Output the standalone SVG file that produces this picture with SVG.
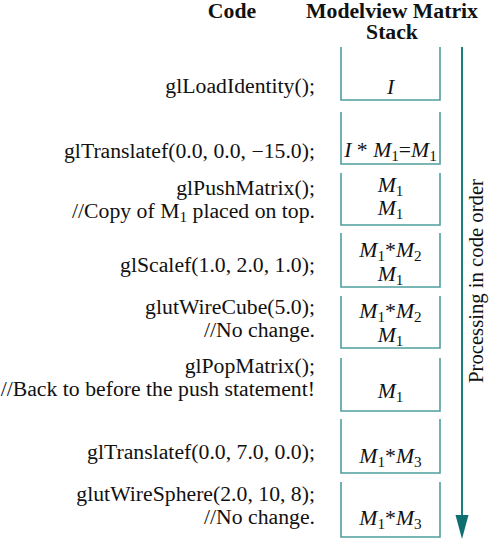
<svg xmlns="http://www.w3.org/2000/svg" width="491" height="539" viewBox="0 0 491 539">
<style>
text{font-family:"Liberation Serif","Times New Roman",Times,Tinos,"Noto Serif","DejaVu Serif",serif;font-size:20px;fill:#111}
.b{font-weight:bold}
.it{font-style:italic}
.sub{font-size:14px}
.box{fill:none;stroke:#4f9e9e;stroke-width:1.6}
.code text{text-anchor:end}
.stk text{text-anchor:middle}
</style>
<rect width="491" height="539" fill="#fff"/>
<g id="titles">
<g transform="translate(232,0) scale(1.087,1)"><text class="b" x="0" y="17.5" text-anchor="middle">Code</text></g>
<g transform="translate(392,0) scale(1.087,1)"><text class="b" x="0" y="17.5" text-anchor="middle">Modelview Matrix</text><text class="b" x="0" y="39" text-anchor="middle">Stack</text></g>
</g>
<g id="code" class="code" transform="translate(315,0) scale(1.087,1)">
<text x="0" y="93">glLoadIdentity();</text>
<text x="0" y="158">glTranslatef(0.0, 0.0, −15.0);</text>
<text x="0" y="195">glPushMatrix();</text>
<text x="0" y="218">//Copy of M<tspan class="sub" dy="4">1</tspan><tspan dy="-4"> placed on top.</tspan></text>
<text x="0" y="272">glScalef(1.0, 2.0, 1.0);</text>
<text x="0" y="314">glutWireCube(5.0);</text>
<text x="0" y="337">//No change.</text>
<text x="0" y="373">glPopMatrix();</text>
<text x="0" y="396">//Back to before the push statement!</text>
<text x="0" y="459">glTranslatef(0.0, 7.0, 0.0);</text>
<text x="0" y="501">glutWireSphere(2.0, 10, 8);</text>
<text x="0" y="524">//No change.</text>
</g>
<g id="stack">
<g id="box1"><path class="box" d="M341,47V100H440V47"/></g>
<g id="box2"><path class="box" d="M341,112V164H440V112"/></g>
<g id="box3"><path class="box" d="M341,173V225H440V173"/></g>
<g id="box4"><path class="box" d="M341,233V287H440V233"/></g>
<g id="box5"><path class="box" d="M341,296V348H440V296"/></g>
<g id="box6"><path class="box" d="M341,358V411H440V358"/></g>
<g id="box7"><path class="box" d="M341,419V473H440V419"/></g>
<g id="box8"><path class="box" d="M341,482V537H440V482"/></g>
</g>
<g id="stack-text" class="stk" transform="translate(390.5,0) scale(1.087,1)">
<text class="it" x="0" y="94">I</text>
<text x="0" y="157"><tspan class="it">I</tspan> * <tspan class="it">M</tspan><tspan class="sub" dy="4">1</tspan><tspan dy="-4">=</tspan><tspan class="it">M</tspan><tspan class="sub" dy="4">1</tspan></text>
<text x="0" y="192"><tspan class="it">M</tspan><tspan class="sub" dy="4">1</tspan></text>
<text x="0" y="215"><tspan class="it">M</tspan><tspan class="sub" dy="4">1</tspan></text>
<text x="0" y="257"><tspan class="it">M</tspan><tspan class="sub" dy="4">1</tspan><tspan dy="-4">*</tspan><tspan class="it">M</tspan><tspan class="sub" dy="4">2</tspan></text>
<text x="0" y="281"><tspan class="it">M</tspan><tspan class="sub" dy="4">1</tspan></text>
<text x="0" y="318"><tspan class="it">M</tspan><tspan class="sub" dy="4">1</tspan><tspan dy="-4">*</tspan><tspan class="it">M</tspan><tspan class="sub" dy="4">2</tspan></text>
<text x="0" y="342"><tspan class="it">M</tspan><tspan class="sub" dy="4">1</tspan></text>
<text x="0" y="398"><tspan class="it">M</tspan><tspan class="sub" dy="4">1</tspan></text>
<text x="0" y="463"><tspan class="it">M</tspan><tspan class="sub" dy="4">1</tspan><tspan dy="-4">*</tspan><tspan class="it">M</tspan><tspan class="sub" dy="4">3</tspan></text>
<text x="0" y="525"><tspan class="it">M</tspan><tspan class="sub" dy="4">1</tspan><tspan dy="-4">*</tspan><tspan class="it">M</tspan><tspan class="sub" dy="4">3</tspan></text>
</g>
<g id="connectors">
<line x1="462" y1="47" x2="462" y2="518" stroke="#1b7f80" stroke-width="2"/>
<polygon points="455.5,515 468.5,515 462,539" fill="#0e6f70"/>
</g>
<g id="label">
<text x="0" y="0" text-anchor="middle" transform="translate(483,281) rotate(-90) scale(1.035,1)">Processing in code order</text>
</g>
</svg>
